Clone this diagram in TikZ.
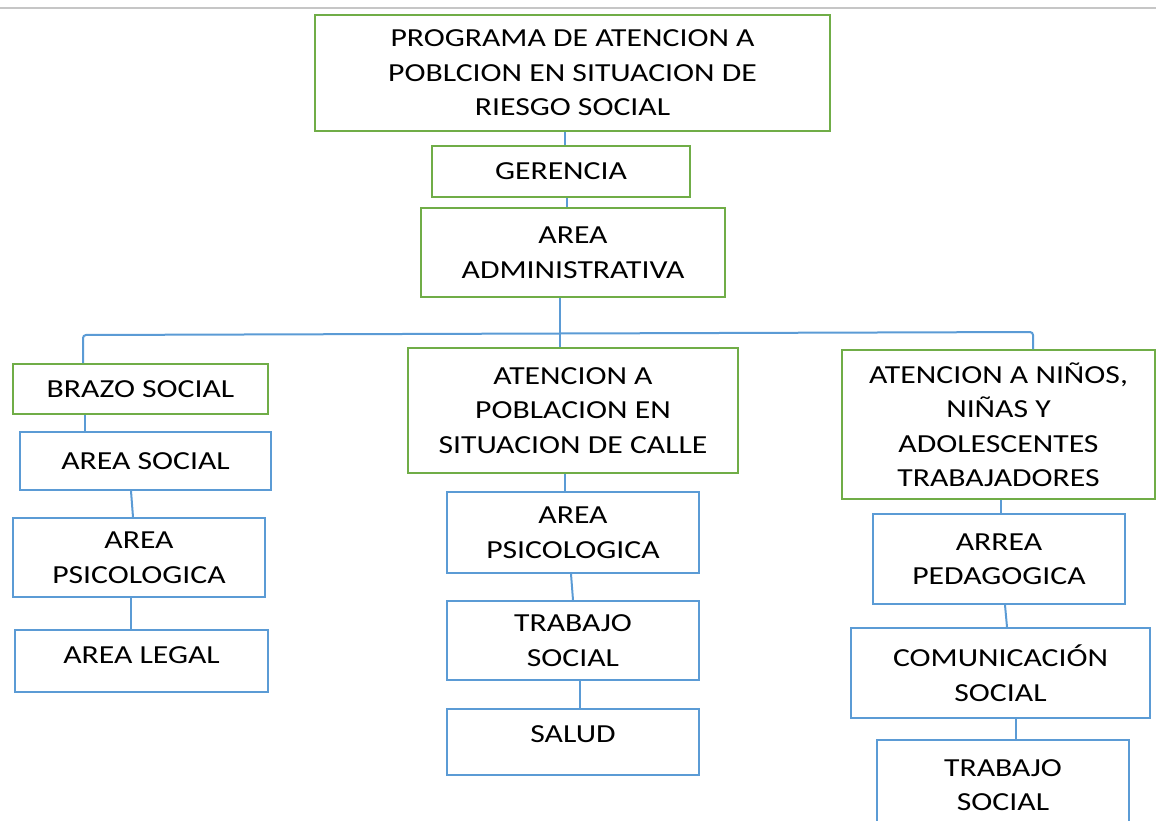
\documentclass[tikz,border=0pt]{standalone}
\usepackage{fontspec}
\setmainfont{Carlito}[FakeStretch=1.22]
\definecolor{boxgreen}{RGB}{112,173,71}
\definecolor{boxblue}{RGB}{91,155,213}
\tikzset{
  base/.style={draw, line width=2pt, fill=white, align=center, inner sep=0pt,
    font=\fontsize{26}{34.5}\selectfont, text=black},
  gbox/.style={base, draw=boxgreen},
  bbox/.style={base, draw=boxblue},
  link/.style={draw=boxblue, line width=2pt},
}
\begin{document}
\begin{tikzpicture}[x=1pt,y=-1pt]
\useasboundingbox (0,0) rectangle (1156,820);
\clip (0,0) rectangle (1156,820);
\draw[gray!45, line width=2.5pt] (0,8) -- (1156,8);

% green boxes
\node[gbox, minimum width=515pt, minimum height=116pt] (prog) at (572.5,73)
  {PROGRAMA DE ATENCION A\\POBLCION EN SITUACION DE\\RIESGO SOCIAL};
\node[gbox, minimum width=258pt, minimum height=51pt] (ger) at (561,171.5) {GERENCIA};
\node[gbox, minimum width=304pt, minimum height=89pt] (adm) at (573,252.5) {AREA\\ADMINISTRATIVA};
\node[gbox, minimum width=255pt, minimum height=50pt] (brazo) at (140.5,389) {BRAZO SOCIAL};
\node[gbox, minimum width=330pt, minimum height=125pt] (calle) at (573,410.5)
  {ATENCION A\\POBLACION EN\\SITUACION DE CALLE};
\node[gbox, minimum width=313pt, minimum height=149pt] (ninos) at (998.5,424.5)
  {ATENCION A NIÑOS,\\NIÑAS Y\\ADOLESCENTES\\TRABAJADORES};

% blue boxes, left column
\node[bbox, minimum width=251pt, minimum height=58pt] (asoc) at (145.5,461) {AREA SOCIAL};
\node[bbox, minimum width=252pt, minimum height=79pt] (psiL) at (139,557.5) {AREA\\PSICOLOGICA};
\node[bbox, minimum width=253pt, minimum height=62pt, text depth=12pt] (legal) at (141.5,661) {AREA LEGAL};
% centre column
\node[bbox, minimum width=252pt, minimum height=81pt] (psiC) at (573,532.5) {AREA\\PSICOLOGICA};
\node[bbox, minimum width=252pt, minimum height=79pt] (trabC) at (573,640.5) {TRABAJO\\SOCIAL};
\node[bbox, minimum width=252pt, minimum height=66pt, text depth=16pt] (salud) at (573,742) {SALUD};
% right column
\node[bbox, minimum width=252pt, minimum height=90pt] (peda) at (999,559) {ARREA\\PEDAGOGICA};
\node[bbox, minimum width=299pt, minimum height=90pt] (comu) at (1000.5,673) {COMUNICACIÓN\\SOCIAL};
\node[bbox, minimum width=252pt, minimum height=90pt] (trabR) at (1003,785) {TRABAJO\\SOCIAL};

% connector x positions
\coordinate (x565) at (565,0);
\coordinate (x567) at (567,0);
\coordinate (x560) at (560,0);
\coordinate (x85) at (85,0);
\coordinate (x131) at (131,0);
\coordinate (x133) at (133,0);
\coordinate (x571) at (571,0);
\coordinate (x573) at (573,0);
\coordinate (x580) at (580,0);
\coordinate (x1001) at (1001,0);
\coordinate (x1005) at (1005,0);
\coordinate (x1007) at (1007,0);
\coordinate (x1016) at (1016,0);
\coordinate (hl) at (83,335);
\coordinate (hr) at (1033,332);

\draw[link] (prog.south -| x565) -- (ger.north -| x565);
\draw[link] (ger.south -| x567) -- (adm.north -| x567);
\draw[link] (adm.south -| x560) -- (calle.north -| x560);
\draw[link, rounded corners=3pt] (brazo.north -| hl) -- (hl) -- (hr) -- (ninos.north -| hr);

\draw[link] (brazo.south -| x85) -- (asoc.north -| x85);
\draw[link] (asoc.south -| x131) -- (psiL.north -| x133);
\draw[link] (psiL.south -| x131) -- (legal.north -| x131);

\draw[link] (calle.south -| x565) -- (psiC.north -| x565);
\draw[link] (psiC.south -| x571) -- (trabC.north -| x573);
\draw[link] (trabC.south -| x580) -- (salud.north -| x580);

\draw[link] (ninos.south -| x1001) -- (peda.north -| x1001);
\draw[link] (peda.south -| x1005) -- (comu.north -| x1007);
\draw[link] (comu.south -| x1016) -- (trabR.north -| x1016);
\end{tikzpicture}
\end{document}
